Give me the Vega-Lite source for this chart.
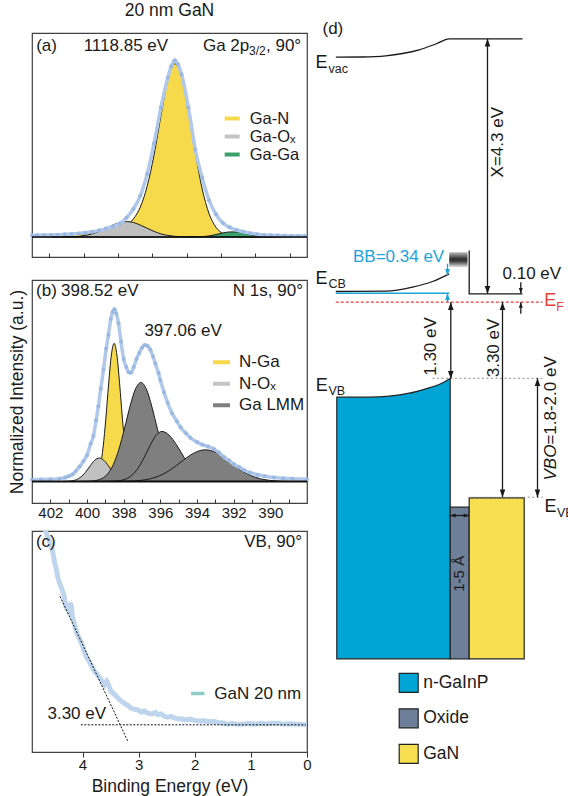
{
  "$schema": "https://vega.github.io/schema/vega-lite/v6.json",
  "background": "white",
  "padding": {"left": 7, "top": 0, "right": 0, "bottom": 0},
  "config": {
    "font": "Liberation Sans",
    "view": {"stroke": "#404040", "strokeWidth": 1.2},
    "axis": {"grid": false, "domain": false, "labelFont": "Liberation Sans", "labelFontSize": 15, "labelColor": "#1a1a1a", "tickColor": "#333333", "tickWidth": 1, "titleFont": "Liberation Sans", "titleFontSize": 17.5, "titleFontWeight": "normal", "titleColor": "#1a1a1a", "labelOverlap": false, "labelFlush": false},
    "legend": {"labelFont": "Liberation Sans", "labelFontSize": 17, "labelColor": "#1a1a1a", "padding": 0},
    "title": {"font": "Liberation Sans", "fontSize": 17.5, "fontWeight": "normal", "color": "#1a1a1a"},
    "text": {"font": "Liberation Sans", "color": "#1a1a1a"}
  },
  "datasets": {
    "a_comp": [
      {"c":"GaN","e":1123,"v":0.008},{"c":"GaN","e":1122.85,"v":0.008},{"c":"GaN","e":1122.65,"v":0.009},{"c":"GaN","e":1122.45,"v":0.010},{"c":"GaN","e":1122.25,"v":0.011},{"c":"GaN","e":1122.05,"v":0.012},{"c":"GaN","e":1121.85,"v":0.014},{"c":"GaN","e":1121.65,"v":0.016},{"c":"GaN","e":1121.45,"v":0.018},{"c":"GaN","e":1121.25,"v":0.021},{"c":"GaN","e":1121.05,"v":0.025},{"c":"GaN","e":1120.85,"v":0.030},{"c":"GaN","e":1120.65,"v":0.037},{"c":"GaN","e":1120.45,"v":0.048},{"c":"GaN","e":1120.25,"v":0.067},{"c":"GaN","e":1120.05,"v":0.103},{"c":"GaN","e":1119.85,"v":0.171},{"c":"GaN","e":1119.65,"v":0.290},{"c":"GaN","e":1119.45,"v":0.469},{"c":"GaN","e":1119.25,"v":0.692},{"c":"GaN","e":1119.05,"v":0.900},{"c":"GaN","e":1118.95,"v":0.966},{"c":"GaN","e":1118.85,"v":0.990},{"c":"GaN","e":1118.75,"v":0.970},{"c":"GaN","e":1118.65,"v":0.914},{"c":"GaN","e":1118.45,"v":0.719},{"c":"GaN","e":1118.25,"v":0.482},{"c":"GaN","e":1118.05,"v":0.275},{"c":"GaN","e":1117.85,"v":0.134},{"c":"GaN","e":1117.65,"v":0.056},{"c":"GaN","e":1117.45,"v":0.020},{"c":"GaN","e":1117.25,"v":0.006},{"c":"GaN","e":1117.05,"v":0.0015},{"c":"GaN","e":1116.85,"v":0},{"c":"GaN","e":1115.05,"v":0},
      {"c":"GaOx","e":1122.45,"v":0},{"c":"GaOx","e":1122.05,"v":0.0005},{"c":"GaOx","e":1121.85,"v":0.0015},{"c":"GaOx","e":1121.65,"v":0.004},{"c":"GaOx","e":1121.45,"v":0.009},{"c":"GaOx","e":1121.25,"v":0.018},{"c":"GaOx","e":1121.05,"v":0.032},{"c":"GaOx","e":1120.85,"v":0.050},{"c":"GaOx","e":1120.65,"v":0.068},{"c":"GaOx","e":1120.45,"v":0.083},{"c":"GaOx","e":1120.25,"v":0.088},{"c":"GaOx","e":1120.05,"v":0.083},{"c":"GaOx","e":1119.85,"v":0.068},{"c":"GaOx","e":1119.65,"v":0.050},{"c":"GaOx","e":1119.45,"v":0.032},{"c":"GaOx","e":1119.25,"v":0.018},{"c":"GaOx","e":1119.05,"v":0.009},{"c":"GaOx","e":1118.85,"v":0.004},{"c":"GaOx","e":1118.65,"v":0.0015},{"c":"GaOx","e":1118.25,"v":0},
      {"c":"GaGa","e":1118.45,"v":0},{"c":"GaGa","e":1118.05,"v":0.002},{"c":"GaGa","e":1117.85,"v":0.006},{"c":"GaGa","e":1117.65,"v":0.014},{"c":"GaGa","e":1117.45,"v":0.023},{"c":"GaGa","e":1117.25,"v":0.029},{"c":"GaGa","e":1117.05,"v":0.029},{"c":"GaGa","e":1116.85,"v":0.023},{"c":"GaGa","e":1116.65,"v":0.014},{"c":"GaGa","e":1116.45,"v":0.006},{"c":"GaGa","e":1116.25,"v":0.002},{"c":"GaGa","e":1116.05,"v":0.0005},{"c":"GaGa","e":1115.65,"v":0}
    ],
    "a_blue": [
      {"e":1123,"v":0.010},{"e":1122.85,"v":0.010},{"e":1122.65,"v":0.011},{"e":1122.45,"v":0.012},{"e":1122.25,"v":0.013},{"e":1122.05,"v":0.015},{"e":1121.85,"v":0.017},{"e":1121.65,"v":0.020},{"e":1121.45,"v":0.024},{"e":1121.25,"v":0.030},{"e":1121.05,"v":0.038},{"e":1120.85,"v":0.048},{"e":1120.65,"v":0.060},{"e":1120.45,"v":0.077},{"e":1120.25,"v":0.110},{"e":1120.05,"v":0.160},{"e":1119.85,"v":0.235},{"e":1119.65,"v":0.36},{"e":1119.45,"v":0.535},{"e":1119.25,"v":0.74},{"e":1119.05,"v":0.91},{"e":1118.95,"v":0.975},{"e":1118.85,"v":1.01},{"e":1118.75,"v":0.985},{"e":1118.65,"v":0.93},{"e":1118.45,"v":0.74},{"e":1118.25,"v":0.50},{"e":1118.05,"v":0.34},{"e":1117.85,"v":0.21},{"e":1117.65,"v":0.13},{"e":1117.45,"v":0.08},{"e":1117.25,"v":0.055},{"e":1117.05,"v":0.040},{"e":1116.85,"v":0.030},{"e":1116.65,"v":0.022},{"e":1116.45,"v":0.016},{"e":1116.25,"v":0.012},{"e":1116.05,"v":0.010},{"e":1115.85,"v":0.008},{"e":1115.65,"v":0.007},{"e":1115.45,"v":0.006},{"e":1115.25,"v":0.005},{"e":1115.05,"v":0.005}
    ],
    "a_text": [
      {"r":"lab","e":1122.88,"v":1.063,"t":"(a)"},
      {"r":"labR","e":1119.04,"v":1.063,"t":"1118.85 eV"},
      {"r":"labR","e":1115.17,"v":1.063,"t":", 90°"},
      {"r":"subR","e":1116.2,"v":1.04,"t":"3/2"},
      {"r":"labR","e":1116.68,"v":1.063,"t":"Ga 2p"}
    ],
    "b_comp": [
      {"c":"NGa","e":397.12,"v":0},{"c":"NGa","e":397.32,"v":0.003},{"c":"NGa","e":397.47,"v":0.011},{"c":"NGa","e":397.62,"v":0.035},{"c":"NGa","e":397.77,"v":0.090},{"c":"NGa","e":397.92,"v":0.197},{"c":"NGa","e":398.07,"v":0.362},{"c":"NGa","e":398.22,"v":0.558},{"c":"NGa","e":398.37,"v":0.724},{"c":"NGa","e":398.52,"v":0.79},{"c":"NGa","e":398.67,"v":0.724},{"c":"NGa","e":398.82,"v":0.558},{"c":"NGa","e":398.97,"v":0.362},{"c":"NGa","e":399.12,"v":0.197},{"c":"NGa","e":399.27,"v":0.090},{"c":"NGa","e":399.42,"v":0.035},{"c":"NGa","e":399.57,"v":0.011},{"c":"NGa","e":399.72,"v":0.003},{"c":"NGa","e":399.92,"v":0},
      {"c":"NOx","e":401.33,"v":0},{"c":"NOx","e":401.08,"v":0.0008},{"c":"NOx","e":400.83,"v":0.0033},{"c":"NOx","e":400.58,"v":0.0101},{"c":"NOx","e":400.33,"v":0.0257},{"c":"NOx","e":400.08,"v":0.0529},{"c":"NOx","e":399.83,"v":0.0886},{"c":"NOx","e":399.58,"v":0.121},{"c":"NOx","e":399.33,"v":0.134},{"c":"NOx","e":399.08,"v":0.121},{"c":"NOx","e":398.83,"v":0.0886},{"c":"NOx","e":398.58,"v":0.0529},{"c":"NOx","e":398.33,"v":0.0257},{"c":"NOx","e":398.08,"v":0.0101},{"c":"NOx","e":397.83,"v":0.0033},{"c":"NOx","e":397.58,"v":0.0008},{"c":"NOx","e":397.33,"v":0},
      {"c":"DG1","e":400.36,"v":0},{"c":"DG1","e":399.86,"v":0.0012},{"c":"DG1","e":399.46,"v":0.0063},{"c":"DG1","e":399.16,"v":0.018},{"c":"DG1","e":398.86,"v":0.045},{"c":"DG1","e":398.56,"v":0.0976},{"c":"DG1","e":398.26,"v":0.184},{"c":"DG1","e":397.96,"v":0.301},{"c":"DG1","e":397.66,"v":0.427},{"c":"DG1","e":397.36,"v":0.528},{"c":"DG1","e":397.06,"v":0.566},{"c":"DG1","e":396.76,"v":0.528},{"c":"DG1","e":396.46,"v":0.427},{"c":"DG1","e":396.16,"v":0.301},{"c":"DG1","e":395.86,"v":0.184},{"c":"DG1","e":395.56,"v":0.0976},{"c":"DG1","e":395.26,"v":0.045},{"c":"DG1","e":394.96,"v":0.018},{"c":"DG1","e":394.66,"v":0.0063},{"c":"DG1","e":394.26,"v":0.0012},{"c":"DG1","e":393.76,"v":0},
      {"c":"DG2","e":399.21,"v":0},{"c":"DG2","e":398.71,"v":0.0006},{"c":"DG2","e":398.31,"v":0.0032},{"c":"DG2","e":398.01,"v":0.0091},{"c":"DG2","e":397.71,"v":0.0228},{"c":"DG2","e":397.41,"v":0.0493},{"c":"DG2","e":397.11,"v":0.0929},{"c":"DG2","e":396.81,"v":0.1519},{"c":"DG2","e":396.51,"v":0.2159},{"c":"DG2","e":396.21,"v":0.2666},{"c":"DG2","e":395.91,"v":0.286},{"c":"DG2","e":395.61,"v":0.273},{"c":"DG2","e":395.31,"v":0.239},{"c":"DG2","e":395.01,"v":0.191},{"c":"DG2","e":394.71,"v":0.139},{"c":"DG2","e":394.41,"v":0.093},{"c":"DG2","e":394.11,"v":0.057},{"c":"DG2","e":393.81,"v":0.032},{"c":"DG2","e":393.51,"v":0.016},{"c":"DG2","e":393.11,"v":0.0057},{"c":"DG2","e":392.61,"v":0.0012},{"c":"DG2","e":392.0,"v":0},
      {"c":"DG3","e":399.0,"v":0},{"c":"DG3","e":398.54,"v":0.0002},{"c":"DG3","e":397.74,"v":0.0014},{"c":"DG3","e":397.04,"v":0.0063},{"c":"DG3","e":396.54,"v":0.0153},{"c":"DG3","e":396.04,"v":0.0326},{"c":"DG3","e":395.54,"v":0.0604},{"c":"DG3","e":395.14,"v":0.0897},{"c":"DG3","e":394.74,"v":0.1219},{"c":"DG3","e":394.34,"v":0.1519},{"c":"DG3","e":393.94,"v":0.1732},{"c":"DG3","e":393.54,"v":0.181},{"c":"DG3","e":393.14,"v":0.1732},{"c":"DG3","e":392.74,"v":0.1519},{"c":"DG3","e":392.34,"v":0.1219},{"c":"DG3","e":391.94,"v":0.0897},{"c":"DG3","e":391.54,"v":0.0604},{"c":"DG3","e":391.04,"v":0.0326},{"c":"DG3","e":390.54,"v":0.0153},{"c":"DG3","e":390.04,"v":0.0063},{"c":"DG3","e":389.34,"v":0.0014},{"c":"DG3","e":388.54,"v":0.0002},{"c":"DG3","e":388.0,"v":0}
    ],
    "b_blue": [
      {"e":403.0,"v":0.010},{"e":402.5,"v":0.011},{"e":402.0,"v":0.012},{"e":401.5,"v":0.016},{"e":401.2,"v":0.022},{"e":401.0,"v":0.030},{"e":400.8,"v":0.040},{"e":400.6,"v":0.060},{"e":400.4,"v":0.085},{"e":400.2,"v":0.115},{"e":400.0,"v":0.150},{"e":399.8,"v":0.215},{"e":399.65,"v":0.26},{"e":399.5,"v":0.35},{"e":399.38,"v":0.43},{"e":399.25,"v":0.53},{"e":399.1,"v":0.64},{"e":398.95,"v":0.76},{"e":398.83,"v":0.84},{"e":398.7,"v":0.93},{"e":398.6,"v":0.97},{"e":398.5,"v":0.985},{"e":398.4,"v":0.96},{"e":398.28,"v":0.905},{"e":398.15,"v":0.80},{"e":398.0,"v":0.70},{"e":397.86,"v":0.655},{"e":397.72,"v":0.625},{"e":397.6,"v":0.622},{"e":397.45,"v":0.655},{"e":397.3,"v":0.70},{"e":397.15,"v":0.735},{"e":397.0,"v":0.765},{"e":396.85,"v":0.78},{"e":396.7,"v":0.775},{"e":396.55,"v":0.755},{"e":396.4,"v":0.715},{"e":396.27,"v":0.675},{"e":396.1,"v":0.62},{"e":396.0,"v":0.58},{"e":395.8,"v":0.51},{"e":395.6,"v":0.45},{"e":395.36,"v":0.39},{"e":395.1,"v":0.345},{"e":394.9,"v":0.31},{"e":394.6,"v":0.275},{"e":394.36,"v":0.25},{"e":394.0,"v":0.225},{"e":393.7,"v":0.21},{"e":393.4,"v":0.20},{"e":393.08,"v":0.185},{"e":392.8,"v":0.165},{"e":392.53,"v":0.14},{"e":392.25,"v":0.12},{"e":392.0,"v":0.10},{"e":391.7,"v":0.082},{"e":391.44,"v":0.065},{"e":391.1,"v":0.05},{"e":390.7,"v":0.038},{"e":390.3,"v":0.03},{"e":389.8,"v":0.022},{"e":389.3,"v":0.018},{"e":388.8,"v":0.015},{"e":388.0,"v":0.013}
    ],
    "b_text": [
      {"r":"lab","e":402.78,"v":1.061,"t":"(b)"},
      {"r":"lab","e":401.42,"v":1.061,"t":"398.52 eV"},
      {"r":"lab","e":396.87,"v":0.833,"t":"397.06 eV"},
      {"r":"labR","e":388.22,"v":1.061,"t":"N 1s, 90°"}
    ],
    "c_blue": [
      {"e":4.76,"v":1.06},{"e":4.68,"v":1.012},{"e":4.62,"v":0.975},{"e":4.57,"v":0.94},{"e":4.53,"v":0.905},{"e":4.50,"v":0.862},{"e":4.47,"v":0.831},{"e":4.44,"v":0.79},{"e":4.41,"v":0.765},{"e":4.385,"v":0.749},{"e":4.35,"v":0.725},{"e":4.33,"v":0.711},{"e":4.30,"v":0.66},{"e":4.27,"v":0.645},{"e":4.24,"v":0.636},{"e":4.22,"v":0.675},{"e":4.20,"v":0.66},{"e":4.18,"v":0.613},{"e":4.14,"v":0.575},{"e":4.09,"v":0.530},{"e":4.06,"v":0.515},{"e":4.03,"v":0.500},{"e":4.00,"v":0.48},{"e":3.97,"v":0.455},{"e":3.93,"v":0.43},{"e":3.88,"v":0.410},{"e":3.84,"v":0.39},{"e":3.79,"v":0.365},{"e":3.73,"v":0.349},{"e":3.67,"v":0.327},{"e":3.61,"v":0.304},{"e":3.57,"v":0.32},{"e":3.55,"v":0.312},{"e":3.49,"v":0.274},{"e":3.43,"v":0.26},{"e":3.37,"v":0.244},{"e":3.31,"v":0.23},{"e":3.26,"v":0.221},{"e":3.20,"v":0.212},{"e":3.14,"v":0.199},{"e":3.08,"v":0.194},{"e":3.02,"v":0.191},{"e":2.95,"v":0.18},{"e":2.90,"v":0.186},{"e":2.84,"v":0.176},{"e":2.76,"v":0.172},{"e":2.70,"v":0.179},{"e":2.66,"v":0.169},{"e":2.60,"v":0.172},{"e":2.54,"v":0.161},{"e":2.48,"v":0.158},{"e":2.42,"v":0.161},{"e":2.37,"v":0.154},{"e":2.30,"v":0.150},{"e":2.25,"v":0.150},{"e":2.15,"v":0.145},{"e":2.08,"v":0.149},{"e":2.01,"v":0.143},{"e":1.92,"v":0.140},{"e":1.83,"v":0.141},{"e":1.75,"v":0.137},{"e":1.67,"v":0.139},{"e":1.59,"v":0.134},{"e":1.50,"v":0.131},{"e":1.41,"v":0.126},{"e":1.33,"v":0.129},{"e":1.25,"v":0.126},{"e":1.12,"v":0.127},{"e":1.02,"v":0.129},{"e":0.92,"v":0.126},{"e":0.82,"v":0.130},{"e":0.72,"v":0.127},{"e":0.62,"v":0.129},{"e":0.52,"v":0.130},{"e":0.42,"v":0.126},{"e":0.33,"v":0.128},{"e":0.23,"v":0.127},{"e":0.12,"v":0.125},{"e":0.0,"v":0.123}
    ],
    "c_text": [
      {"r":"lab","e":4.83,"v":0.928,"t":"(c)"},
      {"r":"labR","e":0.089,"v":0.928,"t":"VB, 90°"},
      {"r":"labR","e":3.58,"v":0.149,"t":"3.30 eV"}
    ],
    "d_gainp": [
      {"m":"n-GaInP","x":24.3,"y":399.3,"y0":137.7},{"m":"n-GaInP","x":56.7,"y":399.3,"y0":137.7},{"m":"n-GaInP","x":76.7,"y":400.3,"y0":137.7},{"m":"n-GaInP","x":96.7,"y":403.3,"y0":137.7},{"m":"n-GaInP","x":113.3,"y":407.7,"y0":137.7},{"m":"n-GaInP","x":126.7,"y":412,"y0":137.7},{"m":"n-GaInP","x":137.7,"y":418,"y0":137.7}
    ],
    "d_rects": [
      {"m":"Oxide","x":137.7,"x2":156.7,"y":289.3,"y2":137.7},
      {"m":"GaN","x":156.7,"x2":211.7,"y":298.7,"y2":137.7}
    ],
    "d_lines": [
      {"k":"kc","id":"evac","o":1,"x":23.3,"y":739.3},{"k":"kc","id":"evac","o":2,"x":50,"y":739.5},{"k":"kc","id":"evac","o":3,"x":73.3,"y":740.7},{"k":"kc","id":"evac","o":4,"x":90,"y":743},{"k":"kc","id":"evac","o":5,"x":106.7,"y":746.7},{"k":"kc","id":"evac","o":6,"x":123.3,"y":752.5},{"k":"kc","id":"evac","o":7,"x":136.7,"y":757.7},{"k":"kc","id":"evac","o":8,"x":210,"y":757.7},
      {"k":"kc","id":"ecb","o":1,"x":23.3,"y":505},{"k":"kc","id":"ecb","o":2,"x":73.3,"y":505.3},{"k":"kc","id":"ecb","o":3,"x":100,"y":509.3},{"k":"kc","id":"ecb","o":4,"x":120,"y":515},{"k":"kc","id":"ecb","o":5,"x":136.7,"y":522.7},
      {"k":"k","id":"gancb","o":1,"x":156.7,"y":546},{"k":"k","id":"gancb","o":2,"x":156.7,"y":502.7},{"k":"k","id":"gancb","o":3,"x":210,"y":502.7},
      {"k":"c","id":"flat","o":1,"x":23.3,"y":503.2},{"k":"c","id":"flat","o":2,"x":136.7,"y":503.2},
      {"k":"r","id":"ef","o":1,"x":23.3,"y":494.3},{"k":"r","id":"ef","o":2,"x":230,"y":494.3},
      {"k":"g","id":"g1","o":1,"x":120,"y":418.3},{"k":"g","id":"g1","o":2,"x":230,"y":418.3},
      {"k":"g","id":"g2","o":1,"x":156.7,"y":299.3},{"k":"g","id":"g2","o":2,"x":230,"y":299.3}
    ],
    "d_shafts": [
      {"k":"k","x":175,"y":757.7,"x2":175,"y2":502.7},
      {"k":"k","x":138.3,"y":494.3,"x2":138.3,"y2":417.7},
      {"k":"k","x":190,"y":494.3,"x2":190,"y2":299.3},
      {"k":"k","x":225,"y":418.3,"x2":225,"y2":299.3},
      {"k":"k","x":208.3,"y":514.3,"x2":208.3,"y2":503},
      {"k":"k","x":208.3,"y":482.7,"x2":208.3,"y2":494.3},
      {"k":"k","x":137.7,"y":281,"x2":156.7,"y2":281},
      {"k":"c","x":135,"y":532.7,"x2":135,"y2":521},
      {"k":"c","x":135,"y":494.3,"x2":135,"y2":503.2}
    ],
    "d_heads": [
      {"a":"x","k":"k","d":"u","x":175,"y":757.7},{"a":"x","k":"k","d":"d","x":175,"y":502.7},
      {"a":"v13","k":"k","d":"u","x":138.3,"y":494.3},{"a":"v13","k":"k","d":"d","x":138.3,"y":417.7},
      {"a":"v33","k":"k","d":"u","x":190,"y":494.3},{"a":"v33","k":"k","d":"d","x":190,"y":299.3},
      {"a":"vbo","k":"k","d":"u","x":225,"y":418.3},{"a":"vbo","k":"k","d":"d","x":225,"y":299.3},
      {"a":"p10","k":"k","d":"d","x":208.3,"y":503},{"a":"p10","k":"k","d":"u","x":208.3,"y":494.3},
      {"a":"ox","k":"k","d":"l","x":137.7,"y":281},{"a":"ox","k":"k","d":"r","x":156.7,"y":281},
      {"a":"bb","k":"c","d":"d","x":135,"y":521},{"a":"bb","k":"c","d":"u","x":135,"y":503.2}
    ],
    "d_text": [
      {"r":"t17","x":10,"y":763,"t":"(d)"},
      {"r":"t17","x":190,"y":518,"t":"0.10 eV"},
      {"r":"E","x":3,"y":729,"t":"E"},{"r":"sub","x":16,"y":724,"t":"vac"},
      {"r":"E","x":3,"y":513,"t":"E"},{"r":"sub","x":16,"y":508.5,"t":"CB"},
      {"r":"E","x":3.3,"y":406,"t":"E"},{"r":"sub","x":16,"y":401.5,"t":"VB"},
      {"r":"E","x":232,"y":284.3,"t":"E"},{"r":"sub","x":244.5,"y":279.5,"t":"VB"},
      {"r":"rE","x":231.7,"y":491,"t":"E"},{"r":"rsub","x":243.7,"y":486,"t":"F"},
      {"r":"cy","x":131.7,"y":535,"t":"BB=0.34 eV"},
      {"r":"rot","x":185.7,"y":654.3,"t":"X=4.3 eV"},
      {"r":"rot","x":118.3,"y":450,"t":"1.30 eV"},
      {"r":"rot","x":181.7,"y":448.5,"t":"3.30 eV"},
      {"r":"rot15","x":146.7,"y":222.7,"t":"1-5 Å"},
      {"r":"vboI","x":238.3,"y":316,"t":"VBO"},
      {"r":"vbo","x":238.3,"y":351.9,"t":"=1.8-2.0 eV"}
    ]
  },
  "resolve": {"scale": {"stroke": "independent", "fill": "independent", "shape": "independent"}, "legend": {"stroke": "independent", "fill": "independent", "shape": "independent"}},
  "hconcat": [
    {
      "spacing": 8,
      "resolve": {"scale": {"stroke": "independent", "fill": "independent"}, "legend": {"stroke": "independent", "fill": "independent"}},
      "vconcat": [
        {
          "width": 275, "height": 224,
          "title": {"text": "20 nm GaN", "offset": 0, "baseline": "alphabetic"},
          "encoding": {
            "x": {"field": "e", "type": "quantitative", "scale": {"domain": [1115, 1123], "reverse": true, "nice": false, "zero": false},
                  "axis": {"title": null, "values": [1115.5,1116,1116.5,1117,1117.5,1118,1118.5,1119,1119.5,1120,1120.5,1121,1121.5,1122,1122.5], "format": "d", "labelExpr": "datum.value % 2 === 0 ? datum.label : ''", "tickSize": -4, "labelPadding": 2}},
            "y": {"field": "v", "type": "quantitative", "scale": {"domain": [-0.1143, 1.1657], "nice": false, "zero": false}, "axis": null}
          },
          "layer": [
            {"data": {"name": "a_comp"}, "transform": [{"filter": "datum.c === 'GaN'"}], "mark": {"type": "area", "interpolate": "monotone", "fill": "#f6da4b", "stroke": "#1a1a1a", "strokeWidth": 1}, "encoding": {"y2": {"datum": 0}}},
            {"data": {"name": "a_comp"}, "transform": [{"filter": "datum.c === 'GaOx'"}], "mark": {"type": "area", "interpolate": "monotone", "fill": "#bfbfbf", "stroke": "#1a1a1a", "strokeWidth": 1}, "encoding": {"y2": {"datum": 0}}},
            {"data": {"name": "a_comp"}, "transform": [{"filter": "datum.c === 'GaGa'"}], "mark": {"type": "area", "interpolate": "monotone", "fill": "#3aa06c", "stroke": "#1a1a1a", "strokeWidth": 1}, "encoding": {"y2": {"datum": 0}}},
            {"data": {"name": "a_blue"}, "mark": {"type": "line", "interpolate": "monotone", "color": "#b0c8ea", "strokeWidth": 3.5}},
            {"data": {"name": "a_blue"}, "mark": {"type": "point", "filled": true, "opacity": 1, "color": "#9bb8e2", "size": 16}},
            {"data": {"values": [{"e": 1123, "e2": 1115, "v": 0}]}, "mark": {"type": "rule", "color": "#111111", "strokeWidth": 1.3}, "encoding": {"x2": {"field": "e2"}}},
            {"data": {"values": [{"e": 1118.85}]}, "mark": {"type": "rule", "color": "#111111", "strokeWidth": 1, "strokeDash": [2, 2]}, "encoding": {"y": {"datum": -0.1143}, "y2": {"datum": 1.1657}}},
            {"data": {"name": "a_text"}, "transform": [{"filter": "datum.r === 'lab'"}], "mark": {"type": "text", "align": "left", "baseline": "alphabetic", "fontSize": 17}, "encoding": {"text": {"field": "t"}}},
            {"data": {"name": "a_text"}, "transform": [{"filter": "datum.r === 'labR'"}], "mark": {"type": "text", "align": "right", "baseline": "alphabetic", "fontSize": 17}, "encoding": {"text": {"field": "t"}}},
            {"data": {"name": "a_text"}, "transform": [{"filter": "datum.r === 'subR'"}], "mark": {"type": "text", "align": "right", "baseline": "alphabetic", "fontSize": 12}, "encoding": {"text": {"field": "t"}}},
            {"data": {"name": "a_comp"}, "transform": [{"filter": "false"}], "mark": {"type": "line", "strokeWidth": 4},
             "encoding": {"stroke": {"field": "c", "type": "nominal", "scale": {"domain": ["Ga-N", "Ga-O\u2093", "Ga-Ga"], "range": ["#f6da4b", "#c4c4c4", "#3aa06c"]},
               "legend": {"orient": "none", "legendX": 190.7, "legendY": 76, "title": null, "symbolType": "stroke", "symbolStrokeWidth": 4, "symbolSize": 225, "labelFontSize": 16.5, "rowPadding": 0, "labelOffset": 8}}}}
          ]
        },
        {
          "width": 275, "height": 223,
          "encoding": {
            "x": {"field": "e", "type": "quantitative", "scale": {"domain": [388, 403], "reverse": true, "nice": false, "zero": false},
                  "axis": {"title": null, "values": [389,390,391,392,393,394,395,396,397,398,399,400,401,402], "format": "d", "labelExpr": "datum.value % 2 === 0 ? datum.label : ''", "tickSize": -4, "labelPadding": 6.7}},
            "y": {"field": "v", "type": "quantitative", "scale": {"domain": [-0.1234, 1.1526], "nice": false, "zero": false},
                  "axis": {"title": "Normalized Intensity (a.u.)", "labels": false, "ticks": false, "domain": false, "titlePadding": 6}}
          },
          "layer": [
            {"data": {"name": "b_comp"}, "transform": [{"filter": "datum.c === 'NGa'"}], "mark": {"type": "area", "interpolate": "monotone", "fill": "#f6da4b", "stroke": "#1a1a1a", "strokeWidth": 1}, "encoding": {"y2": {"datum": 0}}},
            {"data": {"name": "b_comp"}, "transform": [{"filter": "datum.c === 'NOx'"}], "mark": {"type": "area", "interpolate": "monotone", "fill": "#c1c1c1", "stroke": "#1a1a1a", "strokeWidth": 1}, "encoding": {"y2": {"datum": 0}}},
            {"data": {"name": "b_comp"}, "transform": [{"filter": "datum.c === 'DG1'"}], "mark": {"type": "area", "interpolate": "monotone", "fill": "#7f7f7f", "stroke": "#1a1a1a", "strokeWidth": 1}, "encoding": {"y2": {"datum": 0}}},
            {"data": {"name": "b_comp"}, "transform": [{"filter": "datum.c === 'DG2'"}], "mark": {"type": "area", "interpolate": "monotone", "fill": "#7f7f7f", "stroke": "#1a1a1a", "strokeWidth": 1}, "encoding": {"y2": {"datum": 0}}},
            {"data": {"name": "b_comp"}, "transform": [{"filter": "datum.c === 'DG3'"}], "mark": {"type": "area", "interpolate": "monotone", "fill": "#7f7f7f", "stroke": "#1a1a1a", "strokeWidth": 1}, "encoding": {"y2": {"datum": 0}}},
            {"data": {"name": "b_blue"}, "mark": {"type": "line", "interpolate": "monotone", "color": "#b0c8ea", "strokeWidth": 3.5}},
            {"data": {"name": "b_blue"}, "mark": {"type": "point", "filled": true, "opacity": 1, "color": "#9bb8e2", "size": 16}},
            {"data": {"values": [{"e": 403, "e2": 388, "v": 0}]}, "mark": {"type": "rule", "color": "#111111", "strokeWidth": 2}, "encoding": {"x2": {"field": "e2"}}},
            {"data": {"values": [{"e": 398.52}, {"e": 397.06}]}, "mark": {"type": "rule", "color": "#111111", "strokeWidth": 1, "strokeDash": [2, 2]}, "encoding": {"y": {"datum": -0.1234}, "y2": {"datum": 1.1526}}},
            {"data": {"name": "b_text"}, "transform": [{"filter": "datum.r === 'lab'"}], "mark": {"type": "text", "align": "left", "baseline": "alphabetic", "fontSize": 17}, "encoding": {"text": {"field": "t"}}},
            {"data": {"name": "b_text"}, "transform": [{"filter": "datum.r === 'labR'"}], "mark": {"type": "text", "align": "right", "baseline": "alphabetic", "fontSize": 17}, "encoding": {"text": {"field": "t"}}},
            {"data": {"name": "b_comp"}, "transform": [{"filter": "false"}], "mark": {"type": "line", "strokeWidth": 4},
             "encoding": {"stroke": {"field": "c", "type": "nominal", "scale": {"domain": ["N-Ga", "N-O\u2093", "Ga LMM"], "range": ["#f6da4b", "#c4c4c4", "#7f7f7f"]},
               "legend": {"orient": "none", "legendX": 179, "legendY": 71.75, "title": null, "symbolType": "stroke", "symbolStrokeWidth": 4, "symbolSize": 289, "labelFontSize": 17, "rowPadding": 2.5, "labelOffset": 7}}}}
          ]
        },
        {
          "width": 275, "height": 221,
          "encoding": {
            "x": {"field": "e", "type": "quantitative", "scale": {"domain": [0, 4.9], "reverse": true, "nice": false, "zero": false},
                  "axis": {"title": "Binding Energy (eV)", "values": [0,0.5,1,1.5,2,2.5,3,3.5,4,4.5], "format": "d", "labelExpr": "datum.value % 1 === 0 ? datum.label : ''", "tickSize": 5, "labelPadding": 0, "titlePadding": 5}},
            "y": {"field": "v", "type": "quantitative", "scale": {"domain": [0, 1], "nice": false, "zero": false}, "axis": null}
          },
          "layer": [
            {"data": {"name": "c_blue"}, "mark": {"type": "line", "color": "#bfd5ee", "strokeWidth": 5, "clip": true}},
            {"data": {"values": [{"e": 4.40, "v": 0.704, "e2": 3.196, "v2": 0.051}, {"e": 4.03, "v": 0.123, "e2": 0.02, "v2": 0.123}]}, "mark": {"type": "rule", "color": "#111111", "strokeWidth": 1, "strokeDash": [2, 1.5]}, "encoding": {"x2": {"field": "e2"}, "y2": {"field": "v2"}}},
            {"data": {"name": "c_text"}, "transform": [{"filter": "datum.r === 'lab'"}], "mark": {"type": "text", "align": "left", "baseline": "alphabetic", "fontSize": 17}, "encoding": {"text": {"field": "t"}}},
            {"data": {"name": "c_text"}, "transform": [{"filter": "datum.r === 'labR'"}], "mark": {"type": "text", "align": "right", "baseline": "alphabetic", "fontSize": 17}, "encoding": {"text": {"field": "t"}}},
            {"data": {"name": "c_text"}, "transform": [{"filter": "false"}], "mark": {"type": "line", "strokeWidth": 3.5},
             "encoding": {"stroke": {"field": "t", "type": "nominal", "scale": {"domain": ["GaN 20 nm"], "range": ["#8dcfc7"]},
               "legend": {"orient": "none", "legendX": 157.3, "legendY": 154, "title": null, "symbolType": "stroke", "symbolStrokeWidth": 3.5, "symbolSize": 180, "labelFontSize": 17, "labelOffset": 8}}}}
          ]
        }
      ]
    },
    {
      "width": 247.5, "height": 763.5,
      "view": {"stroke": null},
      "encoding": {
        "x": {"field": "x", "type": "quantitative", "scale": {"domain": [10.5, 258], "nice": false, "zero": false}, "axis": null},
        "y": {"field": "y", "type": "quantitative", "scale": {"domain": [0, 763.5], "nice": false, "zero": false}, "axis": null}
      },
      "layer": [
        {"data": {"name": "d_gainp"}, "mark": {"type": "area", "interpolate": "monotone", "stroke": "#222222", "strokeWidth": 1.2},
         "encoding": {"y2": {"field": "y0"}, "fill": {"field": "m", "type": "nominal", "scale": {"domain": ["n-GaInP", "Oxide", "GaN"], "range": ["#00a5d6", "#6e7f99", "#f8df52"]},
           "legend": {"orient": "none", "legendX": 75.2, "legendY": 639.3, "title": null, "symbolType": "square", "symbolSize": 361, "symbolStrokeColor": "#222222", "symbolStrokeWidth": 1.2, "labelFontSize": 17.5, "labelOffset": 4, "rowPadding": 10.5}}}},
        {"data": {"name": "d_rects"}, "mark": {"type": "rect", "stroke": "#222222", "strokeWidth": 1.2},
         "encoding": {"x2": {"field": "x2"}, "y2": {"field": "y2"}, "fill": {"field": "m", "type": "nominal",
           "legend": {"orient": "none", "legendX": 75.2, "legendY": 639.3, "title": null, "symbolType": "square", "symbolSize": 361, "symbolStrokeColor": "#222222", "symbolStrokeWidth": 1.2, "labelFontSize": 17.5, "labelOffset": 4, "rowPadding": 10.5}}}},
        {"data": {"values": [{"x": 136.7, "x2": 155, "y": 529.3, "y2": 544.3}]},
         "mark": {"type": "rect", "fill": {"gradient": "linear", "x1": 0, "y1": 0, "x2": 0, "y2": 1, "stops": [{"offset": 0, "color": "#bdbdbd"}, {"offset": 0.45, "color": "#2e2e2e"}, {"offset": 0.6, "color": "#3a3a3a"}, {"offset": 1, "color": "#e6e6e6"}]}},
         "encoding": {"x2": {"field": "x2"}, "y2": {"field": "y2"}}},
        {"data": {"name": "d_lines"}, "transform": [{"filter": "datum.k === 'kc'"}], "mark": {"type": "line", "interpolate": "monotone", "color": "#1a1a1a", "strokeWidth": 1.3}, "encoding": {"detail": {"field": "id"}, "order": {"field": "o"}}},
        {"data": {"name": "d_lines"}, "transform": [{"filter": "datum.k === 'k'"}], "mark": {"type": "line", "color": "#1a1a1a", "strokeWidth": 1.3}, "encoding": {"detail": {"field": "id"}, "order": {"field": "o"}}},
        {"data": {"name": "d_lines"}, "transform": [{"filter": "datum.k === 'c'"}], "mark": {"type": "line", "color": "#1ba3dc", "strokeWidth": 1.6}, "encoding": {"detail": {"field": "id"}, "order": {"field": "o"}}},
        {"data": {"name": "d_lines"}, "transform": [{"filter": "datum.k === 'r'"}], "mark": {"type": "line", "color": "#e5403a", "strokeWidth": 1.2, "strokeDash": [3, 2]}, "encoding": {"detail": {"field": "id"}, "order": {"field": "o"}}},
        {"data": {"name": "d_lines"}, "transform": [{"filter": "datum.k === 'g'"}], "mark": {"type": "line", "color": "#8c8c8c", "strokeWidth": 1.1, "strokeDash": [2, 2.5]}, "encoding": {"detail": {"field": "id"}, "order": {"field": "o"}}},
        {"data": {"name": "d_shafts"}, "transform": [{"filter": "datum.k === 'k'"}], "mark": {"type": "rule", "color": "#1a1a1a", "strokeWidth": 1.3}, "encoding": {"x2": {"field": "x2"}, "y2": {"field": "y2"}}},
        {"data": {"name": "d_shafts"}, "transform": [{"filter": "datum.k === 'c'"}], "mark": {"type": "rule", "color": "#1ba3dc", "strokeWidth": 1.3}, "encoding": {"x2": {"field": "x2"}, "y2": {"field": "y2"}}},
        {"data": {"name": "d_heads"}, "transform": [{"filter": "datum.k === 'k' && datum.a !== 'p10' && datum.a !== 'ox'"}], "mark": {"type": "point", "filled": true, "opacity": 1, "color": "#1a1a1a", "size": 49, "strokeWidth": 0},
         "encoding": {"shape": {"field": "d", "type": "nominal", "scale": {"domain": ["u", "d", "l", "r"], "range": ["M0,0L0.8,2.2L-0.8,2.2Z", "M0,0L0.8,-2.2L-0.8,-2.2Z", "M0,0L2.2,0.8L2.2,-0.8Z", "M0,0L-2.2,0.8L-2.2,-0.8Z"]}, "legend": null}}},
        {"data": {"name": "d_heads"}, "transform": [{"filter": "datum.a === 'p10' || datum.a === 'ox'"}], "mark": {"type": "point", "filled": true, "opacity": 1, "color": "#1a1a1a", "size": 25, "strokeWidth": 0},
         "encoding": {"shape": {"field": "d", "type": "nominal", "legend": null}}},
        {"data": {"name": "d_heads"}, "transform": [{"filter": "datum.k === 'c'"}], "mark": {"type": "point", "filled": true, "opacity": 1, "color": "#1ba3dc", "size": 36, "strokeWidth": 0},
         "encoding": {"shape": {"field": "d", "type": "nominal", "legend": null}}},
        {"data": {"name": "d_text"}, "transform": [{"filter": "datum.r === 't17'"}], "mark": {"type": "text", "align": "left", "baseline": "alphabetic", "fontSize": 17}, "encoding": {"text": {"field": "t"}}},
        {"data": {"name": "d_text"}, "transform": [{"filter": "datum.r === 'E'"}], "mark": {"type": "text", "align": "left", "baseline": "alphabetic", "fontSize": 18}, "encoding": {"text": {"field": "t"}}},
        {"data": {"name": "d_text"}, "transform": [{"filter": "datum.r === 'sub'"}], "mark": {"type": "text", "align": "left", "baseline": "alphabetic", "fontSize": 12.5, "clip": true}, "encoding": {"text": {"field": "t"}}},
        {"data": {"name": "d_text"}, "transform": [{"filter": "datum.r === 'rE'"}], "mark": {"type": "text", "align": "left", "baseline": "alphabetic", "fontSize": 18, "color": "#e5403a"}, "encoding": {"text": {"field": "t"}}},
        {"data": {"name": "d_text"}, "transform": [{"filter": "datum.r === 'rsub'"}], "mark": {"type": "text", "align": "left", "baseline": "alphabetic", "fontSize": 12.5, "color": "#e5403a"}, "encoding": {"text": {"field": "t"}}},
        {"data": {"name": "d_text"}, "transform": [{"filter": "datum.r === 'cy'"}], "mark": {"type": "text", "align": "right", "baseline": "alphabetic", "fontSize": 17, "color": "#1ba3dc"}, "encoding": {"text": {"field": "t"}}},
        {"data": {"name": "d_text"}, "transform": [{"filter": "datum.r === 'rot'"}], "mark": {"type": "text", "align": "center", "baseline": "middle", "angle": 270, "fontSize": 17}, "encoding": {"text": {"field": "t"}}},
        {"data": {"name": "d_text"}, "transform": [{"filter": "datum.r === 'rot15'"}], "mark": {"type": "text", "align": "center", "baseline": "middle", "angle": 270, "fontSize": 15}, "encoding": {"text": {"field": "t"}}},
        {"data": {"name": "d_text"}, "transform": [{"filter": "datum.r === 'vboI'"}], "mark": {"type": "text", "align": "left", "baseline": "middle", "angle": 270, "fontSize": 17, "fontStyle": "italic"}, "encoding": {"text": {"field": "t"}}},
        {"data": {"name": "d_text"}, "transform": [{"filter": "datum.r === 'vbo'"}], "mark": {"type": "text", "align": "left", "baseline": "middle", "angle": 270, "fontSize": 17}, "encoding": {"text": {"field": "t"}}}
      ]
    }
  ],
  "spacing": 0
}
